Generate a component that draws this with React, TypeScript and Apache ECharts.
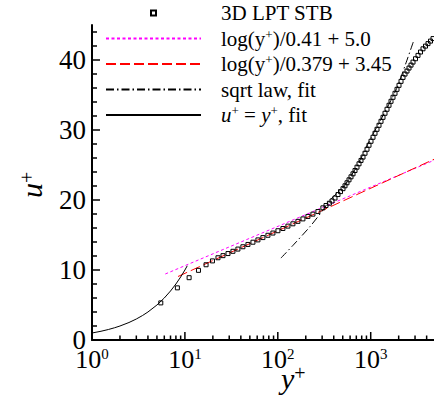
import React, { useEffect, useRef } from 'react';
import * as echarts from 'echarts';

const FONT = 'Liberation Serif';

// 3D LPT STB measurement (y+, u+)
const stbYPlus = [
  5.5, 8.3, 11.1, 14.0, 16.9, 19.8, 22.7, 25.7, 29.1, 32.9, 37.2, 42.1, 47.7, 54.0, 61.1, 69.1, 78.3, 88.6,
  100.3, 113.5, 128.5, 145.4, 164.6, 186.3, 210.9, 238.7, 270.2, 305.8,
  330.2, 359.1, 383.2, 412.8, 444.6, 473.1, 503.3, 528.9, 555.8, 584.0, 613.6, 644.9, 677.7, 712.0, 748.4,
  786.3, 826.2, 868.2, 912.4, 958.7, 1007.4, 1058.8, 1112.5, 1169.0, 1228.3, 1290.9, 1356.4, 1425.3, 1498.0,
  1574.0, 1653.9, 1737.8, 1826.4, 1919.1, 2016.4, 2119.4, 2226.8, 2339.8, 2458.6, 2584.0, 2715.2, 2853.0,
  3035.3, 3229.3, 3436.4, 3655.9, 3889.5, 4138.1, 4402.5, 4683.7,
];
const stbU = [
  5.3, 7.45, 8.9, 9.95, 10.75, 11.3, 11.75, 12.05, 12.35, 12.67, 12.99, 13.32, 13.65, 13.97, 14.3, 14.63, 14.96, 15.28,
  15.61, 15.93, 16.27, 16.6, 16.95, 17.3, 17.65, 17.98, 18.35, 18.88,
  19.21, 19.54, 19.86, 20.28, 20.78, 21.2, 21.62, 22.03, 22.46, 22.88, 23.31, 23.74, 24.21, 24.69, 25.17,
  25.65, 26.13, 26.68, 27.25, 27.82, 28.39, 28.96, 29.53, 30.1, 30.67, 31.24, 31.81, 32.39, 32.96,
  33.53, 34.1, 34.67, 35.24, 35.81, 36.38, 36.95, 37.51, 37.99, 38.42, 38.85, 39.27, 39.7,
  40.18, 40.66, 41.14, 41.6, 41.98, 42.34, 42.7, 43.06,
];

// log(y+)/0.41 + 5.0
const log41X = [6.15, 4800];
const log41U = [9.43, 25.67];
// log(y+)/0.379 + 3.45
const log379X = [8.43, 4800];
const log379U = [9.07, 25.82];
// sqrt law, fit
const sqrtX = [108, 150, 222, 300, 365, 500, 700, 1000, 1400, 1905, 2400, 2876];
const sqrtU = [11.7, 13.7, 16.2, 18.4, 20.0, 21.8, 24.7, 28.8, 32.4, 35.95, 39.6, 42.6];
// u+ = y+, fit
const linX = [1, 1.25, 1.5, 1.75, 2, 2.5, 3, 3.5, 4, 5, 6, 7, 8, 9, 10, 10.6];
const linU = [1, 1.25, 1.5, 1.75, 2, 2.5, 3, 3.5, 4, 5, 6, 7, 8, 9, 10, 10.6];

const xMajorTicks = [10, 100, 1000];
const xMinorTicks = [
  2, 3, 4, 5, 6, 7, 8, 9, 20, 30, 40, 50, 60, 70, 80, 90,
  200, 300, 400, 500, 600, 700, 800, 900, 2000, 3000, 4000,
];
const yTicks = [0, 10, 20, 30, 40];

const NAMES = ['3D LPT STB', 'log(y+)/0.41 + 5.0', 'log(y+)/0.379 + 3.45', 'sqrt law, fit', 'u+ = y+, fit'];
const LEGEND_RICH: Record<string, string> = {
  '3D LPT STB': '3D LPT STB',
  'log(y+)/0.41 + 5.0': 'log(y{s|+})/0.41 + 5.0',
  'log(y+)/0.379 + 3.45': 'log(y{s|+})/0.379 + 3.45',
  'sqrt law, fit': 'sqrt law, fit',
  'u+ = y+, fit': '{i|u}{s|+} = {i|y}{s|+}, fit',
};

const zip = (a: number[], b: number[]) => a.map((v, i) => [v, b[i]]);
const NOFILL = 'rgba(0,0,0,0)';

function tickSeries(values: number[], len: number) {
  return {
    type: 'custom',
    silent: true,
    z: 6,
    data: values.map((v) => [v, 0]),
    renderItem: (_p: any, api: any) => {
      const p = api.coord([api.value(0), 0]);
      return {
        type: 'line',
        shape: { x1: p[0], y1: p[1], x2: p[0], y2: p[1] - len },
        style: { stroke: '#000', lineWidth: 1.5 },
      };
    },
  };
}

export default function App() {
  const ref = useRef<HTMLDivElement>(null);
  useEffect(() => {
    if (!ref.current) return;
    const chart = echarts.init(ref.current, undefined, { renderer: 'svg' });
    const option: any = {
      animation: false,
      backgroundColor: '#fff',
      textStyle: { fontFamily: FONT },
      grid: { left: 92, right: 0, top: 25, bottom: 60, containLabel: false, outerBoundsMode: 'none' },
      legend: {
        data: [
          { name: NAMES[0], icon: 'path://M0,0H10V10H0Z' },
          { name: NAMES[1] },
          { name: NAMES[2] },
          { name: NAMES[3] },
          { name: NAMES[4] },
        ],
        orient: 'vertical',
        left: 105,
        top: 2,
        padding: 0,
        itemWidth: 95,
        itemHeight: 5,
        itemGap: 3.5,
        symbolKeepAspect: true,
        selectedMode: false,
        formatter: (name: string) => LEGEND_RICH[name] ?? name,
        textStyle: {
          fontFamily: FONT,
          fontSize: 21,
          lineHeight: 22,
          color: '#000',
          padding: [0, 0, 0, 15],
          rich: {
            s: { fontFamily: FONT, fontSize: 13, lineHeight: 11, verticalAlign: 'top', color: '#000' },
            i: { fontFamily: FONT, fontSize: 21, lineHeight: 22, fontStyle: 'italic', color: '#000' },
          },
        },
      },
      xAxis: {
        type: 'log',
        logBase: 10,
        min: 1,
        max: 4800,
        axisLine: { show: true, onZero: false, lineStyle: { color: '#000', width: 2 } },
        axisTick: { show: false },
        splitLine: { show: false },
        minorTick: { show: false },
        axisLabel: {
          margin: 6,
          showMaxLabel: false,
          formatter: (v: number) => {
            const e = Math.log10(v);
            const r = Math.round(e);
            if (Math.abs(e - r) > 1e-6) return '';
            return `{b|10}{s|${r}}`;
          },
          rich: {
            b: { fontFamily: FONT, fontSize: 26, lineHeight: 26, color: '#000' },
            s: { fontFamily: FONT, fontSize: 15, lineHeight: 4, verticalAlign: 'top', color: '#000' },
          },
        },
      },
      yAxis: {
        type: 'value',
        min: 0,
        max: 45,
        interval: 10,
        axisLine: { show: true, lineStyle: { color: '#000', width: 2 } },
        axisTick: { show: true, inside: true, length: 8, customValues: yTicks, lineStyle: { color: '#000', width: 1.5 } },
        minorTick: { show: true, splitNumber: 5, length: 5, lineStyle: { color: '#000', width: 1.5 } },
        splitLine: { show: false },
        axisLabel: {
          margin: 6,
          customValues: yTicks,
          fontFamily: FONT,
          fontSize: 27,
          color: '#000',
        },
      },
      graphic: [
        {
          type: 'text',
          x: 31.8,
          y: 198,
          rotation: Math.PI / 2,
          style: {
            text: '{i|u}{s|+}',
            align: 'left',
            verticalAlign: 'middle',
            textAlign: 'left',
            textVerticalAlign: 'middle',
            fill: '#000',
            rich: {
              i: { fontFamily: FONT, fontSize: 30, lineHeight: 30, fontStyle: 'italic', fill: '#000' },
              s: { fontFamily: FONT, fontSize: 20, lineHeight: 4, verticalAlign: 'top', fill: '#000' },
            },
          },
        },
        {
          type: 'text',
          x: 281,
          y: 378.4,
          style: {
            text: '{i|y}{s|+}',
            align: 'left',
            verticalAlign: 'middle',
            textAlign: 'left',
            textVerticalAlign: 'middle',
            fill: '#000',
            rich: {
              i: { fontFamily: FONT, fontSize: 30, lineHeight: 30, fontStyle: 'italic', fill: '#000' },
              s: { fontFamily: FONT, fontSize: 20, lineHeight: 13, verticalAlign: 'top', fill: '#000' },
            },
          },
        },
      ],
      series: [
        {
          name: NAMES[1],
          type: 'line',
          data: zip(log41X, log41U),
          symbol: 'none',
          clip: true,
          lineStyle: { color: '#ff00ff', width: 1, type: [3, 2.5] },
          itemStyle: { color: NOFILL, borderWidth: 0 },
          z: 2,
        },
        {
          name: NAMES[2],
          type: 'line',
          data: zip(log379X, log379U),
          symbol: 'none',
          clip: true,
          lineStyle: { color: '#ff0000', width: 1, type: [10, 4] },
          itemStyle: { color: NOFILL, borderWidth: 0 },
          z: 2,
        },
        {
          name: NAMES[3],
          type: 'line',
          data: zip(sqrtX, sqrtU),
          symbol: 'none',
          smooth: 0.3,
          clip: true,
          lineStyle: { color: '#000', width: 1, type: [8, 3, 1.5, 3] },
          itemStyle: { color: NOFILL, borderWidth: 0 },
          z: 2,
        },
        {
          name: NAMES[4],
          type: 'line',
          data: zip(linX, linU),
          symbol: 'none',
          clip: true,
          lineStyle: { color: '#000', width: 1, type: 'solid' },
          itemStyle: { color: NOFILL, borderWidth: 0 },
          z: 2,
        },
        {
          name: NAMES[0],
          type: 'scatter',
          data: zip(stbYPlus, stbU),
          symbol: 'rect',
          symbolSize: 4,
          clip: true,
          itemStyle: { color: NOFILL, borderColor: '#000', borderWidth: 1, opacity: 1 },
          z: 3,
        },
        tickSeries(xMajorTicks, 8),
        tickSeries(xMinorTicks, 4.5),
      ],
    };
    chart.setOption(option);
    return () => chart.dispose();
  }, []);
  return (
    <div
      ref={ref}
      style={{ position: 'fixed', left: 0, top: 0, width: 434, height: 400, background: '#fff' }}
    />
  );
}
